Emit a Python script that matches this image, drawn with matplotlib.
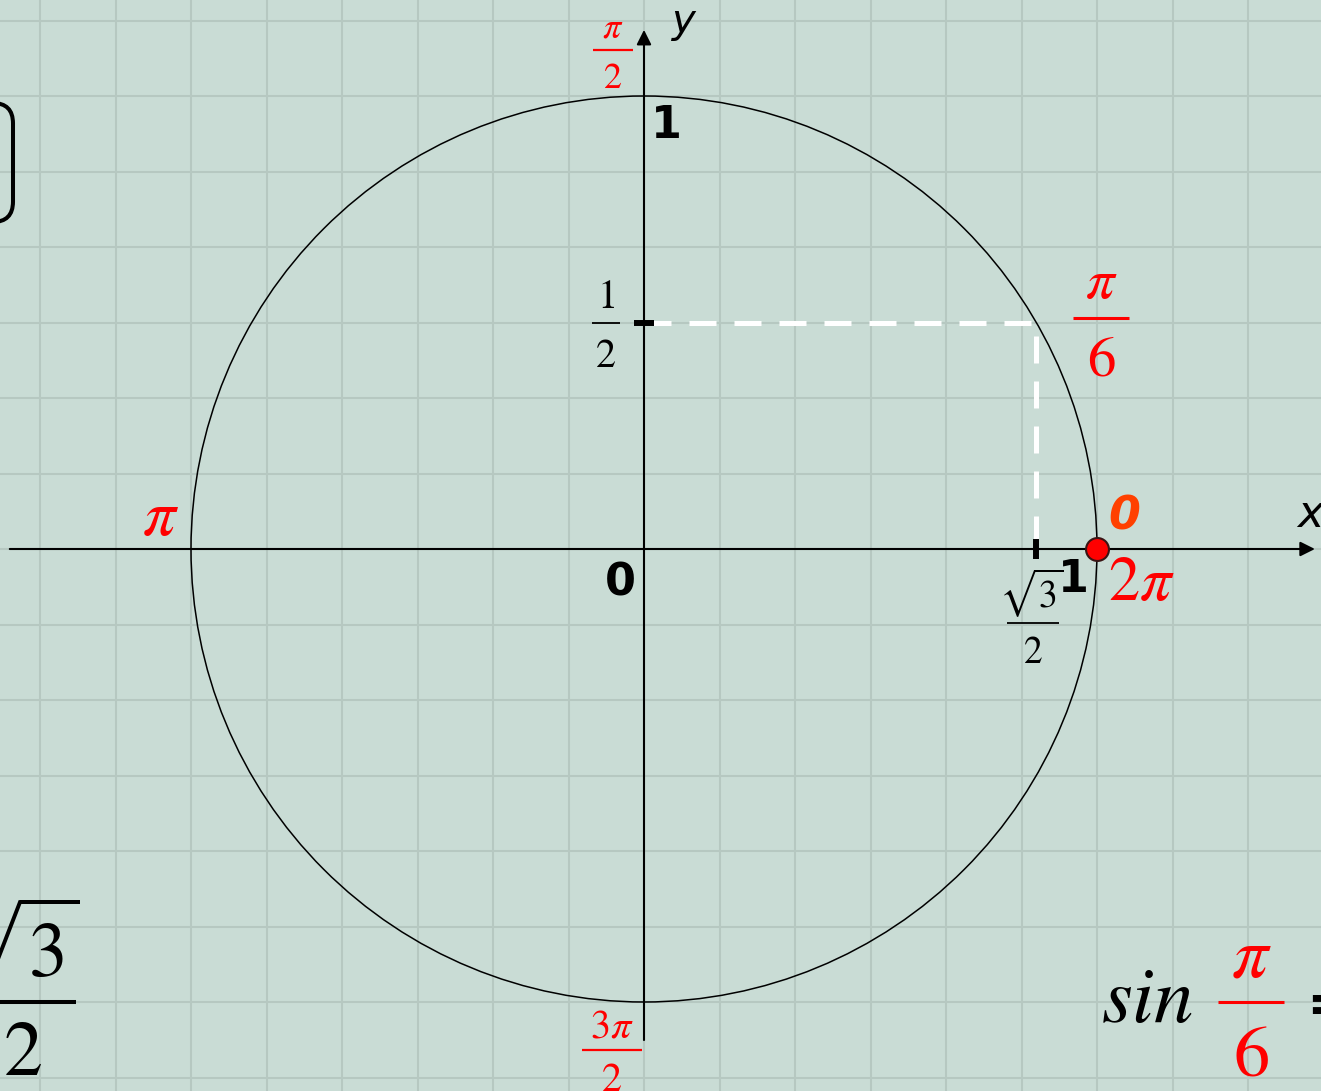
import numpy as np
import matplotlib.pyplot as plt
from matplotlib.patches import Circle, FancyBboxPatch

plt.rcParams['mathtext.fontset'] = 'stix'

# unit circle data
radius = 1.0
grid_step = 1 / 6
x_axis_span = [-1.40, 1.481]
y_axis_span = [-1.084, 1.146]
point_angle = 0.0          # the red point
proj_angle = np.pi / 6     # angle that is projected on the axes
tick_half = 0.022

# picture frame: 453 px per unit, origin at pixel (644, 549)
SCALE = 453
OX, OY = 644, 549
W, H = 1321, 1091


def P(x, y):
    # pixel position -> data position (only used to lay out labels)
    return (x - OX) / SCALE, (OY - y) / SCALE


fig = plt.figure(figsize=(W / 100, H / 100), dpi=100)
fig.patch.set_facecolor('#c9dcd5')
ax = fig.add_axes([0, 0, 1, 1])
ax.set_facecolor('#c9dcd5')
ax.set_xlim(-OX / SCALE, (W - OX) / SCALE)
ax.set_ylim(-(H - OY) / SCALE, OY / SCALE)
ax.axis('off')

# grid
for k in range(-9, 10):
    ax.axvline(k * grid_step, color='#b6c8c1', lw=1.5, zorder=0)
    ax.axhline(k * grid_step, color='#b6c8c1', lw=1.5, zorder=0)

# axes with arrows
ax.annotate('', xy=(x_axis_span[1], 0), xytext=(x_axis_span[0], 0),
            arrowprops=dict(arrowstyle='-|>', color='black', lw=1.5,
                            mutation_scale=22, shrinkA=0, shrinkB=0))
ax.annotate('', xy=(0, y_axis_span[1]), xytext=(0, y_axis_span[0]),
            arrowprops=dict(arrowstyle='-|>', color='black', lw=1.5,
                            mutation_scale=22, shrinkA=0, shrinkB=0))

# circle
ax.add_patch(Circle((0, 0), radius, fill=False, ec='black', lw=1.1, zorder=3))

# projection of pi/6
px_, py_ = radius * np.cos(proj_angle), radius * np.sin(proj_angle)
ax.plot([0, px_, px_], [py_, py_, 0], color='white', lw=3.6,
        dashes=(5.4, 3.6), solid_capstyle='butt', zorder=2)
ax.plot([-tick_half, tick_half], [py_, py_], color='black', lw=4.3,
        solid_capstyle='butt', zorder=4)
ax.plot([px_, px_], [-tick_half, tick_half], color='black', lw=4.3,
        solid_capstyle='butt', zorder=4)

# red point
ax.plot(radius * np.cos(point_angle), radius * np.sin(point_angle), 'o',
        ms=16.5, mfc='#ff0000', mec='#3a1515', mew=1.5, zorder=5)

# rounded box at left edge (mostly outside picture)
x0, y0 = P(-200, 222)
x1, y1 = P(13, 103)
ax.add_patch(FancyBboxPatch((x0, y0), x1 - x0, y1 - y0,
                            boxstyle='round,pad=0,rounding_size=0.045',
                            fill=False, ec='black', lw=2.9, zorder=3))

RED = '#ff0000'
sans = dict(family='DejaVu Sans', va='baseline', zorder=6)

# sans labels
ax.text(*P(666, 138), '1', ha='center', fontsize=32, weight='bold', **sans)
ax.text(*P(620, 595), '0', ha='center', fontsize=32, weight='bold', **sans)
ax.text(*P(1073, 592), '1', ha='center', fontsize=32, weight='bold', **sans)
ax.text(*P(684, 33), 'y', ha='center', fontsize=29, style='italic', **sans)
ax.text(*P(1297, 527), 'x', ha='left', fontsize=32, style='italic', **sans)
ax.text(*P(1124, 530), '0', ha='center', fontsize=33, weight='bold',
        style='italic', color='#ff4000', **sans)

# angle labels
ax.text(*P(1108, 600), r'$2\pi$', ha='left', va='baseline', fontsize=45,
        color=RED, zorder=6)
ax.text(*P(160, 535), r'$\pi$', ha='center', va='baseline', fontsize=47,
        color=RED, zorder=6)


def frac(cx, bar_y, half_w, num, num_base, den, den_base, size, color,
         bar_lw, num_dx=0):
    bx0, by = P(cx - half_w, bar_y)
    bx1, _ = P(cx + half_w, bar_y)
    ax.plot([bx0, bx1], [by, by], color=color, lw=bar_lw,
            solid_capstyle='butt', zorder=6)
    ax.text(*P(cx + num_dx, num_base), num, ha='center', va='baseline',
            fontsize=size, color=color, zorder=6)
    ax.text(*P(cx, den_base), den, ha='center', va='baseline',
            fontsize=size, color=color, zorder=6)


frac(1101, 318, 28, r'$\pi$', 298, r'$6$', 375, 41, RED, 2.2)
frac(613, 50, 20, r'$\pi$', 38, r'$2$', 88, 26, RED, 1.6)
frac(606, 323, 14, r'$1$', 308, r'$2$', 367, 29, 'black', 1.3)
frac(1033, 623, 26, r'$\sqrt{3}$', 607, r'$2$', 663, 27, 'black', 1.3,
     num_dx=-2)
frac(612, 1050, 30, r'$3\pi$', 1037, r'$2$', 1091, 29, RED, 1.6)

# bottom formula pieces
frac(22, 1002, 54, r'$\sqrt{3}$', 977, r'$2$', 1075, 56, 'black', 2.9,
     num_dx=-9)
ax.text(*P(1101, 1022), r'$sin$', ha='left', va='baseline', fontsize=57,
        color='black', zorder=6)
frac(1251, 1002, 33, r'$\pi$', 977, r'$6$', 1075, 52, RED, 2.2)
ax.text(*P(1306, 1022), '=', ha='left', va='baseline', fontsize=40,
        weight='bold', family='DejaVu Sans', color='black', zorder=6)

fig.savefig('out.png', dpi=100, facecolor=fig.get_facecolor())
